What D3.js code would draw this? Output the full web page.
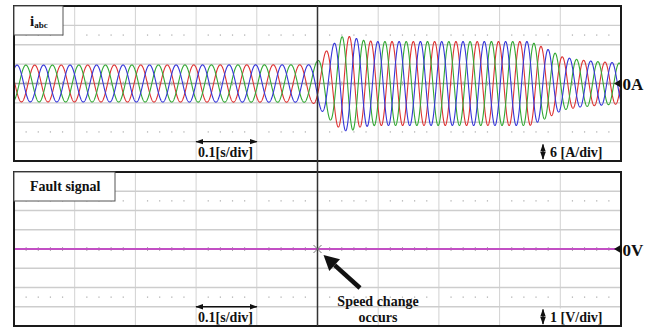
<!DOCTYPE html>
<html>
<head>
<meta charset="utf-8">
<script src="https://cdn.jsdelivr.net/npm/d3@7"></script>
<style>
  body { margin: 0; background: #fff; }
  svg text { font-family: "Liberation Serif", "Times New Roman", serif; font-weight: bold; fill: #111; }
</style>
</head>
<body>
<div id="chart"></div>
<script>
"use strict";

// time axis: 10 div x 0.1 s
const timeDivs = d3.range(0, 1.00001, 0.1);
// current envelope (A, peak)
const envTime = [0, 0.49, 0.5, 0.516, 0.529, 0.542, 0.557, 0.57, 0.595, 0.85, 0.878, 0.904, 0.932, 0.96, 1.0];
const envAmp  = [5.7, 5.8, 7.0, 10.4, 12.7, 14.7, 14.5, 13.5, 13.0, 13.0, 10.7, 8.2, 7.3, 6.8, 6.3];
// electrical frequency (Hz)
const freqTime = [0, 0.5, 0.56, 1.0];
const freqHz   = [22.9, 22.9, 28.5, 28.5];
const phaseNames  = ["a", "b", "c"];
const phaseColors = ["#dd3333", "#33a833", "#3535d8"];
const phaseShift  = [-120, 0, -240];   // degrees, green leads
// fault signal (V)
const faultTime = [0, 1.0];
const faultVal  = [0, 0];

const W = 654, H = 329;
const svg = d3.select("#chart").append("svg").attr("width", W).attr("height", H);

const x = d3.scaleLinear().domain([0, 1]).range([14, 621]);
const yTop = d3.scaleLinear().domain([-24, 24]).range([161, 6]);
const yBot = d3.scaleLinear().domain([-4, 4]).range([326, 172]);

const env = d3.scaleLinear().domain(envTime).range(envAmp);
const fr = d3.scaleLinear().domain(freqTime).range(freqHz);

function grid(g, y, step) {
  const [lo, hi] = y.domain();
  const rows = d3.range(lo, hi + 1e-6, step);
  g.append("g").selectAll("line").data(timeDivs.slice(1, -1)).join("line")
    .attr("x1", d => x(d)).attr("x2", d => x(d))
    .attr("y1", y(hi)).attr("y2", y(lo))
    .attr("stroke", "#d2d2d2").attr("stroke-width", 1);
  g.append("g").selectAll("line").data(rows.slice(1, -1)).join("line")
    .attr("x1", x(0)).attr("x2", x(1))
    .attr("y1", d => y(d)).attr("y2", d => y(d))
    .attr("stroke", d => d === 0 ? "#9a9a9a" : "#cdcdcd").attr("stroke-width", 1.4);
  // dotted rows + centre ticks
  const subs = d3.range(0, 1.00001, 0.02).filter(t => Math.abs(t * 10 - Math.round(t * 10)) > 1e-6);
  [lo + step * 1.5, hi - step * 1.5].forEach(v => {
    g.append("g").selectAll("rect").data(subs).join("rect")
      .attr("x", d => x(d) - 0.6).attr("y", y(v) - 0.6).attr("width", 1.2).attr("height", 1.2)
      .attr("fill", "#aaa");
  });
  g.append("g").selectAll("line").data(subs).join("line")
    .attr("x1", d => x(d)).attr("x2", d => x(d))
    .attr("y1", y(0) - 2).attr("y2", y(0) + 2)
    .attr("stroke", "#aaa").attr("stroke-width", 1);
}

// ---- top panel ----
const topPanel = svg.append("g");
topPanel.append("rect").attr("x", x(0)).attr("y", yTop(24)).attr("width", x(1) - x(0)).attr("height", yTop(-24) - yTop(24)).attr("fill", "#fff");
grid(topPanel, yTop, 6);

// build the three phase currents
const N = 4000;
const samples = [];
let theta = 0;
for (let i = 0; i <= N; i++) {
  const t = i / N;
  if (i > 0) theta += 2 * Math.PI * fr(t) / N;
  samples.push({ t, theta });
}
const theta0 = Math.PI / 2 - 2 * Math.PI * fr(0) * 0.005 + 240 * Math.PI / 180;
const line = d3.line().x(d => x(d[0])).y(d => yTop(d[1]));
phaseNames.forEach((p, k) => {
  const pts = samples.map(s => [s.t, env(s.t) * Math.sin(s.theta + theta0 + phaseShift[k] * Math.PI / 180)]);
  topPanel.append("path").datum(pts).attr("d", line)
    .attr("fill", "none").attr("stroke", phaseColors[k]).attr("stroke-width", 1.1);
});

topPanel.append("rect").attr("x", x(0)).attr("y", yTop(24)).attr("width", x(1) - x(0)).attr("height", yTop(-24) - yTop(24))
  .attr("fill", "none").attr("stroke", "#1a1a1a").attr("stroke-width", 2);

// label box
topPanel.append("rect").attr("x", x(0)).attr("y", yTop(24)).attr("width", 49).attr("height", 29)
  .attr("fill", "#fff").attr("stroke", "#555").attr("stroke-width", 1);
const lbl = topPanel.append("text").attr("x", 30).attr("y", 26).style("font-size", "15px");
lbl.append("tspan").text("i");
lbl.append("tspan").attr("dy", 2).style("font-size", "9px").text("abc");

// ---- bottom panel ----
const botPanel = svg.append("g");
botPanel.append("rect").attr("x", x(0)).attr("y", yBot(4)).attr("width", x(1) - x(0)).attr("height", yBot(-4) - yBot(4)).attr("fill", "#fff");
grid(botPanel, yBot, 1);
botPanel.append("path").datum(faultTime.map((t, i) => [t, faultVal[i]]))
  .attr("d", d3.line().x(d => x(d[0])).y(d => yBot(d[1])))
  .attr("stroke", "#c24fc4").attr("stroke-width", 2).attr("fill", "none");
botPanel.append("rect").attr("x", x(0)).attr("y", yBot(4)).attr("width", x(1) - x(0)).attr("height", yBot(-4) - yBot(4))
  .attr("fill", "none").attr("stroke", "#1a1a1a").attr("stroke-width", 2);
botPanel.append("rect").attr("x", x(0)).attr("y", yBot(4)).attr("width", 101).attr("height", 29)
  .attr("fill", "#fff").attr("stroke", "#555").attr("stroke-width", 1);
botPanel.append("text").attr("x", 30).attr("y", 191).style("font-size", "14px").text("Fault signal");

// centre (trigger) line across both panels
svg.append("line").attr("x1", x(0.5)).attr("x2", x(0.5)).attr("y1", yTop(24)).attr("y2", yBot(-4))
  .attr("stroke", "#333").attr("stroke-width", 1.5);

// x marker
const cx = x(0.5), cy = yBot(0);
svg.append("path").attr("d", `M${cx - 4},${cy - 4}L${cx + 4},${cy + 4}M${cx - 4},${cy + 4}L${cx + 4},${cy - 4}`)
  .attr("stroke", "#777").attr("stroke-width", 1);

// scale annotations
const defs = svg.append("defs");
defs.append("marker").attr("id", "ah").attr("viewBox", "0 0 10 10").attr("refX", 9).attr("refY", 5)
  .attr("markerWidth", 6).attr("markerHeight", 6).attr("orient", "auto-start-reverse")
  .append("path").attr("d", "M0,1.5L10,5L0,8.5Z").attr("fill", "#111");

function timeScale(yArrow, yText) {
  svg.append("rect").attr("x", x(0.3) + 1).attr("y", yArrow + 1).attr("width", x(0.4) - x(0.3) - 2).attr("height", 16).attr("fill", "#fff");
  svg.append("line").attr("x1", x(0.3)).attr("x2", x(0.4)).attr("y1", yArrow).attr("y2", yArrow)
    .attr("stroke", "#111").attr("stroke-width", 1.3)
    .attr("marker-start", "url(#ah)").attr("marker-end", "url(#ah)");
  svg.append("text").attr("x", x(0.3) + 2).attr("y", yText).style("font-size", "14px").text("0.1[s/div]");
}
timeScale(yTop(-18), 156.5);
timeScale(yBot(-3), 321.5);

function ampScale(y0, y1, label) {
  svg.append("rect").attr("x", 537).attr("y", y0).attr("width", 70).attr("height", y1 - y0).attr("fill", "#fff");
  svg.append("line").attr("x1", 543).attr("x2", 543).attr("y1", y0 + 1).attr("y2", y1 - 1)
    .attr("stroke", "#111").attr("stroke-width", 1.3)
    .attr("marker-start", "url(#ah)").attr("marker-end", "url(#ah)");
  svg.append("text").attr("x", 550).attr("y", y1 - 3.5).style("font-size", "14px").text(label);
}
ampScale(143.5, 160, "6 [A/div]");
ampScale(308.5, 325, "1 [V/div]");

// zero markers
function zeroMark(y, label) {
  svg.append("path").attr("d", `M614,${y}L621.5,${y - 4.5}L621.5,${y + 4.5}Z`).attr("fill", "#111");
  svg.append("text").attr("x", 622.5).attr("y", y + 6.5).style("font-size", "17px").text(label);
}
zeroMark(yTop(0), "0A");
zeroMark(yBot(0), "0V");

// event arrow
const tip = [cx + 6, cy + 6], tail = [360, 288];
const ang = Math.atan2(tip[1] - tail[1], tip[0] - tail[0]);
const hl = 15, hw = 8;
const bx = tip[0] - hl * Math.cos(ang), by = tip[1] - hl * Math.sin(ang);
const px = -Math.sin(ang), py = Math.cos(ang);
svg.append("line").attr("x1", tail[0]).attr("y1", tail[1]).attr("x2", bx).attr("y2", by)
  .attr("stroke", "#111").attr("stroke-width", 4.5);
svg.append("path").attr("d", `M${tip[0]},${tip[1]}L${bx + px * hw},${by + py * hw}L${bx - px * hw},${by - py * hw}Z`)
  .attr("fill", "#111");
svg.append("text").attr("x", 378).attr("y", 305.5).attr("text-anchor", "middle").style("font-size", "14px").text("Speed change");
svg.append("text").attr("x", 378).attr("y", 321.5).attr("text-anchor", "middle").style("font-size", "14px").text("occurs");
</script>
</body>
</html>
